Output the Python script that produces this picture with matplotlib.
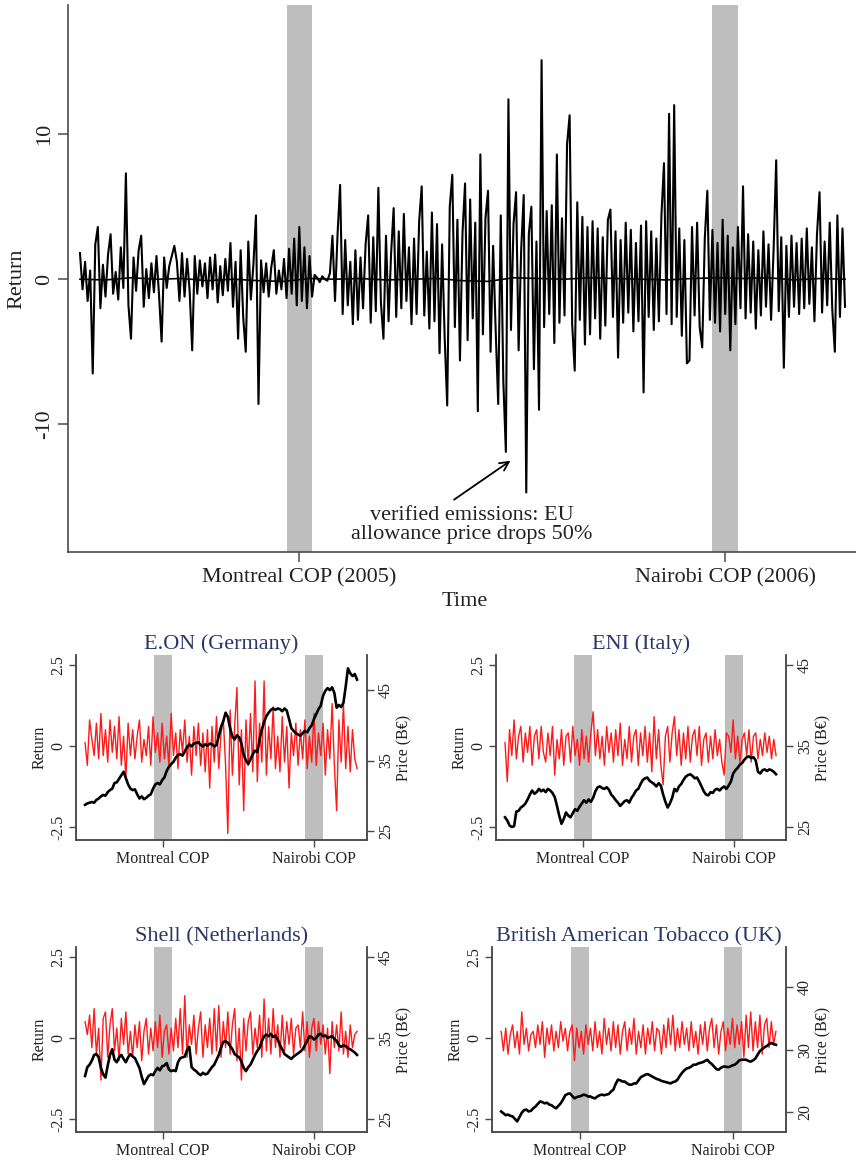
import numpy as np
import matplotlib
matplotlib.use('Agg')
import matplotlib.pyplot as plt

plt.rcParams['font.family'] = ['Liberation Serif', 'DejaVu Serif']

W, H, DPI = 856, 1162, 100

# ---------------- data ----------------
# daily returns of the aggregate index (top panel), one value per trading day
top_returns = [
    1.8, -0.7, 1.2, -1.5, 0.6, -6.5, 2.4, 3.6, -2.0, 1.0,
    -1.2, 1.7, 3.1, -1.0, 0.5, -1.4, 2.2, -0.6, 7.3, -1.8,
    -4.1, 1.5, -0.8, 2.0, 3.0, -1.9, 0.7, -1.3, 1.1, -0.9,
    1.6, -1.1, -4.3, 1.5, -0.6, 0.9, 1.6, 2.3, 1.2, -1.5,
    1.8, -1.2, 1.4, -0.8, -4.9, 1.6, -1.0, 1.3, -0.5, 1.1,
    -1.3, 1.5, -0.7, 1.7, -1.6, 0.9, -1.1, 1.4, -0.8, 2.5,
    -1.9, 1.2, -4.1, 2.0, -2.6, -5.0, 2.6, -1.4, 1.0, 4.4,
    -8.6, 1.3, -0.9, 1.1, -1.2, 0.8, 2.0, -1.0, 0.6, -0.7,
    1.4, -1.3, 2.1, -1.0, 2.8, -1.8, 3.6, -1.5, 2.2, -2.0,
    1.6, -1.2, 0.3, 0.1, -0.2, 0.2, 0.0, -0.1, 0.4, 3.0,
    -1.5, 3.1, 6.5, -2.4, 2.7, -1.8, 1.2, -3.1, 2.0, -2.8,
    1.5, -2.0, 2.4, 4.4, -3.0, 2.9, -2.2, 6.3, -1.6, -4.1,
    3.0, -2.9, 1.8, 4.9, -2.6, 3.3, -2.0, 4.5, -1.5, 2.2,
    -3.1, 2.8, -2.4, 4.0, 6.4, -2.5, 1.9, -3.4, 4.6, -2.9,
    3.8, -5.1, 2.4, -4.0, -8.7, 5.0, 7.2, -3.3, 4.1, -5.6,
    3.2, 6.6, -4.2, 5.5, -2.7, 3.9, -9.1, 8.6, -3.8, 4.2,
    6.1, -5.0, 2.3, -3.5, -8.6, 4.4, -7.0, -11.9, 12.4, -3.5,
    3.8, 6.0, -4.9, 2.0, 5.8, -14.7, 3.1, 5.0, -6.2, 2.6,
    -9.0, 15.1, -3.3, 4.7, -2.4, 5.1, -4.4, 8.6, -3.0, 4.2,
    -2.5, 9.3, 11.3, -3.1, -6.3, 5.3, -2.8, 4.3, -4.5, 3.6,
    -3.8, 4.0, -2.7, 3.5, -4.1, 2.9, -3.2, 4.1, 4.8, -2.6,
    3.3, -5.4, 2.7, -3.0, 3.9, -2.3, 3.4, -3.6, 2.5, -2.9,
    3.7, -7.8, 4.0, -2.6, 3.3, -3.5, 2.8, -2.9, 4.4, 8.0,
    -2.4, 11.4, -3.1, 12.0, -2.6, 3.5, -3.9, 2.7, -5.8, -5.6,
    3.6, -2.5, 3.9, -3.3, -4.7, 2.8, 6.1, -2.8, 3.4, -3.0,
    2.5, -3.6, 4.1, -2.4, 3.0, -4.9, 2.2, -3.1, 3.6, -2.0,
    6.4, -2.7, 3.1, -2.3, 2.6, -3.4, 2.0, -2.5, 3.3, -1.9,
    2.4, -2.8, 2.1, 8.2, -2.2, 2.9, -6.1, 2.3, -2.6, 3.0,
    -1.9, 2.5, -2.4, 2.8, -2.0, 3.5, -1.7, 2.2, -2.9, 3.1,
    6.0, -2.3, 2.6, -1.8, 3.9, -2.1, -5.0, 4.4, -2.6, 3.5,
    -1.9,
]
# fitted conditional mean of the index return (every 10th day)
top_fitted = [0.0, -0.05, 0.1, 0.0, 0.05, -0.1, 0.0, -0.1, -0.15, 0.05,
              0.0, 0.05, -0.05, 0.0, 0.05, -0.1, -0.15, 0.1, 0.05, 0.0,
              0.1, 0.05, 0.0, -0.05, 0.05, 0.1, 0.05, 0.1, -0.05, 0.05, 0.0]

cop_days = [86, 253]
cop_window_top = [(81, 91), (248, 258)]
cop_window_small = [(76, 96), (243, 263)]
cop_labels_top = ['Montreal COP (2005)', 'Nairobi COP (2006)']
cop_labels_small = ['Montreal COP', 'Nairobi COP']

companies = ['E.ON (Germany)', 'ENI (Italy)', 'Shell (Netherlands)',
             'British American Tobacco (UK)']

eon_returns = [
    0.1, -0.6, 0.8, 0.2, -0.3, 0.7, -0.4, 1.0, -0.3, 0.5, -0.5, 0.8, -0.2, 0.6, -0.4, 0.9, -0.6, 0.3, -1.0, 0.7, -0.3,
    0.5, -0.4, 0.3, 0.8, -0.5, 0.2, -0.3, 0.6, -0.6, 0.9, -0.2, 0.4, -0.5, 0.7, -0.4, 0.3, -0.6, 1.0, -0.3, 0.4,
    -0.7, 0.5, -0.2, 0.8, -0.5, 0.3, -0.9, 0.6, -0.3, 0.7, -0.6, 0.4, -0.8, 0.5, -1.3,
    0.6, -0.5, 0.9, -0.7, 0.4, 0.8, -0.6, -2.7, 1.1, -0.9, 0.6, 1.8, -1.2, 0.5, -2.0, 0.8, -0.6, 1.0, -0.8, 2.0,
    -1.1, 0.7, -0.5, 2.0, -0.9, 0.6, -0.4, 1.2, -0.7, 0.3, -0.8, 0.9, -0.5, 0.6, -1.3, 0.4, -0.3, 0.7, -0.6, 0.5,
    -0.4, 0.8, -0.7, 0.3, -0.5, 1.0, -0.6, 0.4, -0.3, 0.7, -0.9, 0.5, -0.4, 1.3, -0.6, -2.0, 0.8, -0.5, 1.3, -0.7,
    0.6, -0.8, 0.5, -0.4, -0.7,
]
eon_price = [
    28.7, 28.9, 29.0, 29.1, 29.0, 29.4, 29.6, 29.9, 30.1, 30.0, 30.5, 30.8, 31.0, 31.8, 31.9, 32.4, 32.9, 33.4, 32.5, 31.6,
    31.0, 30.8, 30.9, 30.2, 29.6, 29.9, 29.5, 29.7, 30.0, 30.2, 31.0, 31.6, 31.8, 31.6, 32.2, 32.6, 33.5, 34.1, 34.5, 34.8,
    35.4, 35.8, 35.9, 35.7, 36.3, 36.9, 37.3, 37.0, 37.4, 37.5, 37.6, 37.2, 37.0, 37.3, 37.1, 37.4, 37.3, 37.0, 37.2, 38.5,
    39.8, 40.6, 41.8, 41.2, 39.6, 38.4, 38.0, 38.6, 38.3, 37.4, 35.8, 35.0, 34.5, 35.2, 35.9, 36.4, 36.2, 38.0, 39.4, 40.5,
    41.3, 41.8, 42.2, 42.4, 42.2, 42.4, 42.3, 42.0, 42.4, 42.1, 40.9, 39.6, 39.2, 38.9, 38.7, 38.5, 38.9, 39.2, 39.0, 39.6,
    40.0, 40.9, 41.6, 42.3, 42.8, 44.2, 44.9, 45.3, 45.0, 45.4, 44.6, 42.5, 42.9, 42.6, 43.2, 45.5, 48.1, 47.4, 47.0, 47.3,
    46.5,
]

eni_returns = [
    0.1, -1.1, 0.5, -0.3, 0.8, -0.4, 0.3, 0.6, -0.5, 0.4, -0.2, 0.6, -0.6, 0.3, 0.5, -0.4, 0.6, -0.2, -0.5, 0.4, -0.3,
    0.6, -0.9, 0.2, -0.4, 0.5, -0.6, 0.3, 0.4, -0.5, 0.6, -0.3, 0.2, -0.6, 0.5, -0.4, 0.3, -0.5, 0.4, 1.05, -0.3,
    0.5, -0.4, 0.3, -0.6, 0.6, -0.2, 0.4, -0.5, 0.5, -0.3, 0.7, -0.6, 0.2, -0.4, 0.6, -0.5, 0.3, 0.5, -0.6, 0.4,
    -0.3, 0.6, -0.5, 0.4, -0.8, 0.9, -0.4, 0.5, -0.6, -1.2, 0.3, 0.6, -0.5, 0.4, 0.9, -0.3, 0.5, -0.6, 0.4, -0.4,
    0.6, -0.5, 0.3, 0.5, -0.3, 0.6, -0.6, 0.2, 0.4, -0.5, 0.3, -0.4, 0.5, -0.3, 0.2, -0.5, -0.9, 0.4, 0.3, -0.2,
    0.8, -0.4, 0.3, -0.5, 0.2, 0.4, -0.3, 0.5, -0.5, 0.3, 0.4, -0.4, 0.2, -0.3, 0.4, -0.2, 0.3, -0.4, 0.2, -0.3,
]
eni_price = [
    26.2, 25.8, 25.2, 25.0, 25.1, 26.9, 27.0, 27.4, 27.6, 27.9, 28.4, 29.0, 29.5, 29.1, 29.3, 29.7, 29.4, 29.6, 29.3, 29.7,
    29.5, 29.2, 28.7, 27.6, 26.4, 25.4, 26.0, 26.8, 26.4, 26.2, 26.7, 27.2, 27.0, 27.5, 27.9, 28.3, 28.0, 28.4, 28.1, 28.6,
    29.4, 29.9, 30.0, 29.8, 29.7, 29.9, 29.6, 29.0, 28.7, 28.3, 28.0, 27.6, 27.9, 28.2, 28.3, 28.0, 28.6, 29.0, 29.5, 29.7,
    30.3, 30.8, 31.0, 31.1, 30.7, 30.5, 30.3, 30.0, 30.4, 30.1, 29.0, 28.1, 27.4, 27.9, 28.6, 29.7, 29.4, 30.0, 30.3, 30.8,
    31.2, 31.4, 31.5, 31.3, 31.0, 31.1, 30.6, 30.0, 29.4, 29.0, 28.9, 29.3, 29.2, 29.6, 29.7, 29.5, 29.8, 30.0, 29.7, 30.1,
    30.6, 31.6, 32.0, 32.3, 32.7, 32.9, 33.3, 33.6, 33.7, 33.5, 33.6, 33.2, 31.8, 31.6, 32.0, 32.1, 31.9, 32.1, 32.0, 31.8,
    31.5,
]

shell_returns = [
    0.5, 0.1, 0.7, -0.3, 0.9, -0.5, 0.3, -1.3, 0.6, 0.8, -0.6, 0.4, 0.9, -0.4, 0.3, -0.7, 0.6, -0.2, 0.8, -0.5, 0.2,
    -0.6, 0.4, -0.3, 0.5, -0.7, 0.2, 0.6, -0.5, 0.3, -0.4, 0.5, -0.3, 0.7, -0.6, 0.2, 0.4, -0.5, 0.3, -0.4, 0.6,
    -0.3, 0.9, -0.5, 1.3, -0.6, 0.4, -0.2, 0.7, -0.5, 0.3, 0.8, -0.6, 0.4, -0.3, 0.6, -0.5, 0.9, -0.4, 1.0, -0.6,
    0.5, -0.3, 0.8, -0.5, 0.4, 0.9, -0.7, 0.3, -1.3, 0.6, -0.4, 0.5, 0.8, -0.5, 0.3, -0.3, 0.7, -0.6, 1.2, -0.4,
    0.6, -0.5, 0.9, -0.3, 0.4, -0.6, 0.7, -0.4, 0.5, -0.2, 0.6, -0.5, 0.3, 0.4, -0.3, 0.8, -0.4, 0.5, -0.6, 0.3,
    0.6, -0.4, 0.5, -0.2, 0.4, -0.5, 0.3, -1.1, 0.5, -0.3, 0.4, -0.4, 0.8, -0.5, 0.2, -0.6, 0.4, -0.3, 0.1, 0.2,
]
shell_price = [
    30.3, 31.4, 31.7, 32.2, 32.9, 33.0, 32.6, 31.3, 30.5, 30.1, 31.6, 32.9, 33.6, 32.3, 32.0, 32.6, 32.9, 32.4, 32.0, 32.6,
    33.0, 32.7, 32.5, 31.9, 31.3, 30.2, 29.3, 29.8, 30.3, 30.5, 30.4, 30.9, 31.3, 31.0, 31.5, 31.6, 31.9, 31.1, 30.9, 31.0,
    30.9, 32.0, 32.5, 32.6, 32.7, 33.5, 33.9, 31.4, 31.1, 30.9, 30.6, 30.4, 30.7, 30.5, 30.6, 31.0, 31.4, 31.7, 32.3, 32.9,
    33.8, 34.5, 34.6, 34.4, 34.0, 33.6, 33.0, 32.8, 32.6, 32.1, 31.3, 30.9, 31.4, 31.7, 32.3, 32.9, 33.4, 33.8, 34.6, 35.2,
    35.4, 35.2, 35.5, 35.1, 35.3, 34.8, 34.1, 33.6, 33.0, 32.8, 32.6, 32.4, 32.7, 32.9, 33.1, 33.3, 33.6, 34.1, 34.6, 35.2,
    35.1, 34.8, 35.0, 35.4, 35.5, 35.2, 35.3, 35.0, 35.1, 35.2, 34.9, 34.6, 34.1, 33.9, 34.1, 34.0, 33.7, 33.6, 33.4, 33.2,
    32.9,
]

bat_returns = [
    0.2, -0.4, 0.3, -0.5, 0.1, 0.4, -0.3, 0.2, -0.5, 0.8, -0.2, 0.3, -0.4, 0.1, 0.2, -0.3, 0.4, -0.2, 0.5, -0.6, 0.3,
    -0.2, 0.4, -0.4, 0.2, -0.3, 0.5, -0.1, 0.3, -0.4, 0.2, 0.4, -0.7, 0.3, -0.3, 0.2, -0.5, 0.4, -0.2, 0.3, -0.4,
    0.5, -0.3, 0.2, -0.5, 0.6, -0.2, 0.3, -0.4, 0.5, -0.3, 0.4, -0.5, 0.2, 0.5, -0.4, 0.3, -0.2, 0.6, -0.5, 0.2,
    -0.3, 0.4, -0.5, 0.3, -0.2, 0.5, -0.4, 0.3, 0.2, -0.5, 0.4, -0.3, 0.6, -0.2, 0.7, -0.4, 0.3, -0.3, 0.5, -0.2,
    0.3, -0.4, 0.5, -0.3, 0.2, -0.5, 0.4, -0.2, 0.5, -0.4, 0.3, 0.6, -0.3, 0.4, -0.5, 0.2, 0.5, -0.4, 0.3, -0.2,
    0.6, -0.3, 0.4, -0.2, 0.5, -0.6, 0.7, -0.3, 0.8, -0.4, 0.5, -0.3, 0.7, -0.5, 0.4, 0.6, -0.3, 0.5, -0.2, 0.2,
]
bat_price = [
    20.1, 19.8, 19.5, 19.6, 19.4, 19.3, 18.9, 18.5, 19.2, 19.9, 20.3, 20.4, 20.1, 20.2, 20.6, 20.9, 21.3, 21.7, 21.6, 21.4,
    21.5, 21.2, 21.1, 20.8, 20.6, 21.0, 21.4, 22.0, 22.7, 22.9, 23.0, 22.6, 22.2, 22.4, 22.5, 22.6, 22.8, 22.7, 22.5, 22.5,
    22.3, 22.2, 22.5, 22.7, 22.8, 22.7, 22.8, 22.9, 23.3, 23.6, 24.5, 25.2, 25.1, 24.9, 24.9, 24.6, 24.4, 24.4, 24.6, 24.6,
    25.1, 25.6, 25.8, 26.0, 26.1, 25.9, 25.7, 25.5, 25.3, 25.2, 25.0, 24.9, 24.8, 24.7, 24.6, 24.8, 24.9, 25.2, 25.8, 26.3,
    26.7, 27.0, 27.1, 27.3, 27.6, 27.6, 27.8, 27.9, 28.0, 28.2, 28.4, 28.0, 27.7, 27.3, 26.9, 26.8, 27.1, 27.3, 27.3, 27.2,
    27.3, 27.5, 27.6, 27.9, 28.3, 28.4, 28.4, 28.4, 28.2, 28.1, 28.3, 28.6, 29.2, 29.8, 30.1, 30.4, 30.6, 30.9, 31.1, 30.9,
    30.8,
]

price_ticks = [[25, 35, 45], [25, 35, 45], [25, 35, 45], [20, 30, 40]]
price_limits = [(23.7, 50.0), (23.4, 46.2), (23.4, 46.2), (16.8, 46.5)]
return_ticks = [-2.5, 0, 2.5]
return_tick_labels = ['-2.5', '0', '2.5']

# ---------------- styles ----------------
SPINE = '#4a4a4a'
TXT = '#222222'
TITLE = '#2c3768'
SHADE = '#bebebe'

fig = plt.figure(figsize=(W / DPI, H / DPI), dpi=DPI)


def px_axes(l, t, r, b):
    return fig.add_axes([l / W, 1 - b / H, (r - l) / W, (b - t) / H])


# ---------------- top panel ----------------
ax = px_axes(68, 5, 856, 552)
days = np.arange(len(top_returns))
for a, b in cop_window_top:
    ax.axvspan(a, b, color=SHADE, lw=0, zorder=0)
ax.plot(days, top_returns, color='black', lw=1.5, zorder=2)
fit_days = np.linspace(0, len(top_returns) - 1, len(top_fitted))
ax.plot(fit_days, top_fitted, color='black', lw=1.2, zorder=3)
ax.set_xlim(-4.7, 304.3)
ax.set_ylim(-18.8, 18.9)
for s in ['top', 'right']:
    ax.spines[s].set_visible(False)
for s in ['left', 'bottom']:
    ax.spines[s].set_color(SPINE)
    ax.spines[s].set_linewidth(1.2)
ax.set_xticks(cop_days)
ax.set_xticklabels(cop_labels_top, fontsize=16, color=TXT)
ax.set_yticks([-10, 0, 10])
ax.set_yticklabels(['-10', '0', '10'], fontsize=16, color=TXT, rotation=90, va='center')
ax.tick_params(axis='both', length=7, width=1.1, color=SPINE)
ax.tick_params(axis='x', pad=5)
ax.tick_params(axis='y', pad=3)
ax.annotate('', xy=(169.7, -12.4), xytext=(145.8, -15.3),
            arrowprops=dict(arrowstyle='->', color='black', lw=1.3, mutation_scale=16))
ax.text(153.7, -16.95, 'verified emissions: EU\nallowance price drops 50%',
        ha='center', va='center', fontsize=16, color=TXT, linespacing=0.98)
fig.text(16.5 / W, 1 - 279 / H, 'Return', rotation=90, ha='center', va='center',
         fontsize=16, color=TXT)
fig.text(465 / W, 1 - 602 / H, 'Time', ha='center', va='center', fontsize=16, color=TXT)

# ---------------- small panels ----------------
panels = [
    (76, 655, 367, 840, eon_returns, eon_price),
    (496, 655, 786, 840, eni_returns, eni_price),
    (76, 947, 367, 1132, shell_returns, shell_price),
    (492, 947, 786, 1132, bat_returns, bat_price),
]

for i, (l, t, r, b, rets, prices) in enumerate(panels):
    axl = px_axes(l, t, r, b)
    for a, c in cop_window_small:
        axl.axvspan(a, c, color=SHADE, lw=0, zorder=0)
    tr = np.linspace(0, 300, len(rets))
    axl.plot(tr, rets, color='#ff1a1a', lw=1.0, zorder=2)
    axl.set_xlim(-10, 311)
    axl.set_ylim(-2.9, 2.8)
    axl.set_xticks(cop_days)
    axl.set_xticklabels(cop_labels_small, fontsize=11.5, color=TXT)
    axl.set_yticks(return_ticks)
    axl.set_yticklabels(return_tick_labels, fontsize=11.5, color=TXT, rotation=90, va='center')
    axl.tick_params(axis='both', length=5, width=1.0, color=SPINE)
    axl.tick_params(axis='x', pad=3)
    axl.tick_params(axis='y', pad=2)
    axl.spines['top'].set_visible(False)
    for s in ['left', 'bottom', 'right']:
        axl.spines[s].set_color(SPINE)
        axl.spines[s].set_linewidth(1.1)
    axl.set_title(companies[i], fontsize=16, color=TITLE, pad=4)

    axr = axl.twinx()
    tp = np.linspace(0, 300, len(prices))
    axr.plot(tp, prices, color='black', lw=1.9, zorder=3)
    axr.set_ylim(*price_limits[i])
    axr.set_yticks(price_ticks[i])
    axr.set_yticklabels([str(v) for v in price_ticks[i]], fontsize=11.5, color=TXT,
                        rotation=90, va='center')
    axr.tick_params(axis='y', length=5, width=1.0, color=SPINE, pad=3)
    axr.spines['top'].set_visible(False)
    for s in ['left', 'bottom', 'right']:
        axr.spines[s].set_color(SPINE)
        axr.spines[s].set_linewidth(1.1)

    fig.text((l - 36) / W, 1 - ((t + b) / 2) / H, 'Return', rotation=90,
             ha='center', va='center', fontsize=11.5, color=TXT)
    fig.text((r + 37) / W, 1 - ((t + b) / 2) / H, 'Price (B€)', rotation=90,
             ha='center', va='center', fontsize=11.5, color=TXT)

fig.savefig('out.png', dpi=DPI)
